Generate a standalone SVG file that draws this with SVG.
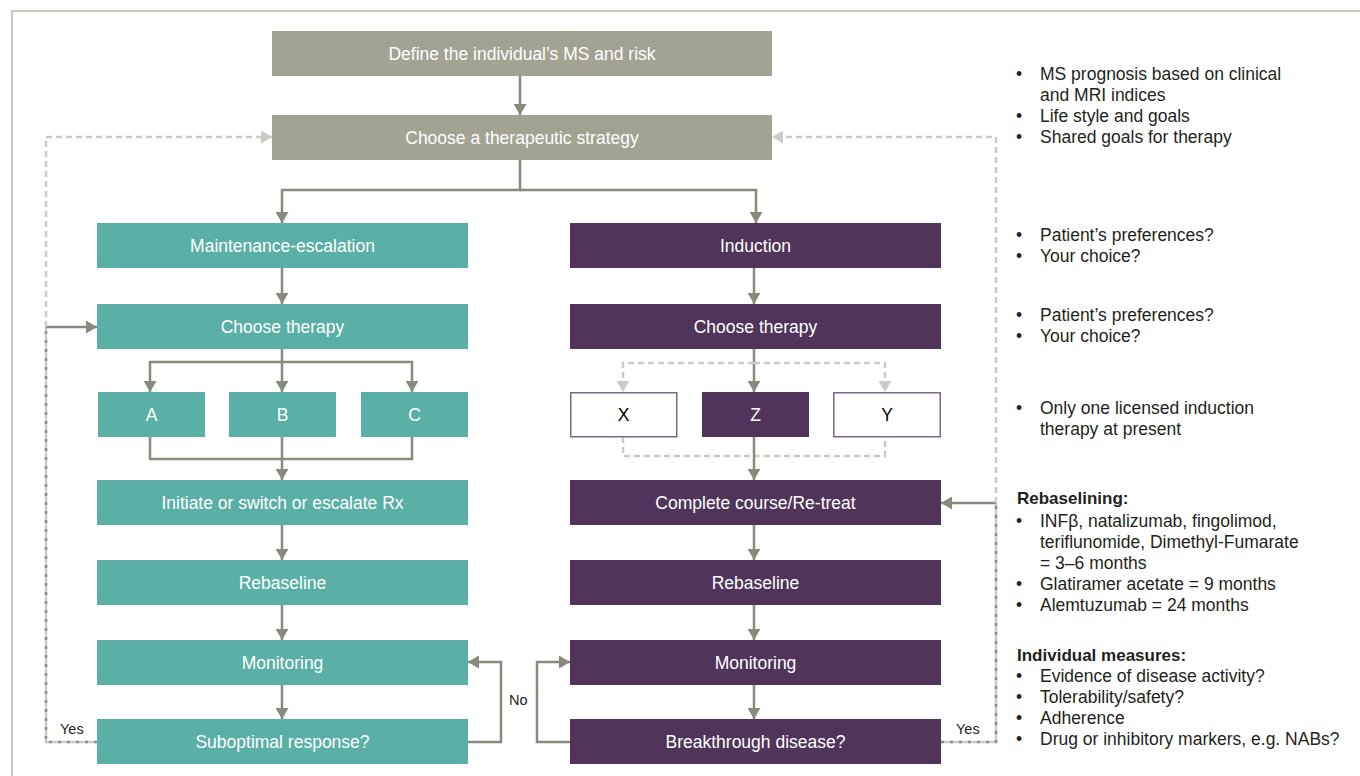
<svg xmlns="http://www.w3.org/2000/svg" width="1360" height="776" viewBox="0 0 1360 776">
<style>
  .t{font-family:"Liberation Sans",Arial,sans-serif;font-size:17.5px;fill:#ffffff;text-anchor:middle;dominant-baseline:central}
  .tk{font-family:"Liberation Sans",Arial,sans-serif;font-size:17.5px;fill:#000000;text-anchor:middle;dominant-baseline:central}
  .gray{fill:#a3a392}
  .teal{fill:#5aafa6}
  .purp{fill:#50345a}
  .wbox{fill:#ffffff;stroke:#7d6688;stroke-width:1.5}
  .c{fill:none;stroke:#878a7c;stroke-width:2.5}
  .d{fill:none;stroke:#cbcbc3;stroke-width:2.5;stroke-dasharray:6 4}
  .ls{fill:none;stroke:#cbcbc3;stroke-width:2.5}
  .dd{fill:none;stroke:#8e9083;stroke-width:2.5;stroke-dasharray:3 6}
  .side{font-family:"Liberation Sans",Arial,sans-serif;font-size:17.5px;fill:#231f20}
  .hd{font-weight:bold;font-size:17px}
  .lbl{font-family:"Liberation Sans",Arial,sans-serif;font-size:14.5px;fill:#231f20}
</style>
<defs>
  <marker id="a" markerUnits="userSpaceOnUse" markerWidth="11" markerHeight="13" viewBox="0 0 11 13" refX="11" refY="6.5" orient="auto">
    <path d="M0,0 L11,6.5 L0,13 z" fill="#878a7c"/>
  </marker>
  <marker id="al" markerUnits="userSpaceOnUse" markerWidth="11" markerHeight="13" viewBox="0 0 11 13" refX="11" refY="6.5" orient="auto">
    <path d="M0,0 L11,6.5 L0,13 z" fill="#cbcbc3"/>
  </marker>
</defs>
<rect x="12" y="11" width="1400" height="820" fill="none" stroke="#cacabe" stroke-width="2"/>

<g id="connectors">
  <path class="c" d="M520,76 V115" marker-end="url(#a)"/>
  <path class="c" d="M520,160 V190 H282 V223" marker-end="url(#a)"/>
  <path class="c" d="M520,190 H756 V223" marker-end="url(#a)"/>
  <path class="c" d="M282,268 V304" marker-end="url(#a)"/>
  <path class="c" d="M282,349 V392" marker-end="url(#a)"/>
  <path class="c" d="M282,362 H150 V392" marker-end="url(#a)"/>
  <path class="c" d="M282,362 H412 V392" marker-end="url(#a)"/>
  <path class="c" d="M150,437 V459 H412 V437"/>
  <path class="c" d="M282,437 V480" marker-end="url(#a)"/>
  <path class="c" d="M282,525 V560" marker-end="url(#a)"/>
  <path class="c" d="M282,605 V640" marker-end="url(#a)"/>
  <path class="c" d="M282,685 V719" marker-end="url(#a)"/>
  <path class="c" d="M468,742 H501 V662 H468" marker-end="url(#a)"/>
  <path class="ls" d="M97,742 H46 V327"/>
  <path class="dd" d="M97,742 H46 V327"/>
  <path class="c" d="M46,327 H97" marker-end="url(#a)"/>
  <path class="d" d="M46,327 V137 H272" marker-end="url(#al)"/>

  <path class="c" d="M754,268 V304" marker-end="url(#a)"/>
  <path class="c" d="M754,349 V392" marker-end="url(#a)"/>
  <path class="d" d="M754,363 H623 V392" marker-end="url(#al)"/>
  <path class="d" d="M754,363 H885 V392" marker-end="url(#al)"/>
  <path class="d" d="M623,437 V456 H885 V437"/>
  <path class="c" d="M754,437 V480" marker-end="url(#a)"/>
  <path class="c" d="M754,525 V560" marker-end="url(#a)"/>
  <path class="c" d="M754,605 V640" marker-end="url(#a)"/>
  <path class="c" d="M754,685 V719" marker-end="url(#a)"/>
  <path class="c" d="M570,742 H537 V662 H570" marker-end="url(#a)"/>
  <path class="ls" d="M941,742 H996 V503"/>
  <path class="dd" d="M941,742 H996 V503"/>
  <path class="c" d="M996,503 H941" marker-end="url(#a)"/>
  <path class="d" d="M996,503 V137 H772" marker-end="url(#al)"/>

  <text class="lbl" x="60" y="734">Yes</text>
  <text class="lbl" x="509" y="705">No</text>
  <text class="lbl" x="956" y="734">Yes</text>
</g>

<g id="define"><rect class="gray" x="272" y="31" width="500" height="45"/><text class="t" x="522" y="53.5">Define the individual’s MS and risk</text></g>
<g id="strategy"><rect class="gray" x="272" y="115" width="500" height="45"/><text class="t" x="522" y="137.5">Choose a therapeutic strategy</text></g>

<g id="maint"><rect class="teal" x="97" y="223" width="371" height="45"/><text class="t" x="282.5" y="245.5">Maintenance-escalation</text></g>
<g id="choose-l"><rect class="teal" x="97" y="304" width="371" height="45"/><text class="t" x="282.5" y="326.5">Choose therapy</text></g>
<g id="A"><rect class="teal" x="98" y="392" width="107" height="45"/><text class="t" x="151.5" y="414.5">A</text></g>
<g id="B"><rect class="teal" x="229" y="392" width="107" height="45"/><text class="t" x="282.5" y="414.5">B</text></g>
<g id="C"><rect class="teal" x="361" y="392" width="107" height="45"/><text class="t" x="414.5" y="414.5">C</text></g>
<g id="initiate"><rect class="teal" x="97" y="480" width="371" height="45"/><text class="t" x="282.5" y="502.5">Initiate or switch or escalate Rx</text></g>
<g id="rebase-l"><rect class="teal" x="97" y="560" width="371" height="45"/><text class="t" x="282.5" y="582.5">Rebaseline</text></g>
<g id="monitor-l"><rect class="teal" x="97" y="640" width="371" height="45"/><text class="t" x="282.5" y="662.5">Monitoring</text></g>
<g id="subopt"><rect class="teal" x="97" y="719" width="371" height="45"/><text class="t" x="282.5" y="741.5">Suboptimal response?</text></g>

<g id="induction"><rect class="purp" x="570" y="223" width="371" height="45"/><text class="t" x="755.5" y="245.5">Induction</text></g>
<g id="choose-r"><rect class="purp" x="570" y="304" width="371" height="45"/><text class="t" x="755.5" y="326.5">Choose therapy</text></g>
<g id="X"><rect class="wbox" x="570.75" y="392.75" width="106" height="44"/><text class="tk" x="623.5" y="414.5">X</text></g>
<g id="Z"><rect class="purp" x="702" y="392" width="107" height="45"/><text class="t" x="755.5" y="414.5">Z</text></g>
<g id="Y"><rect class="wbox" x="833.75" y="392.75" width="106.5" height="44"/><text class="tk" x="887" y="414.5">Y</text></g>
<g id="complete"><rect class="purp" x="570" y="480" width="371" height="45"/><text class="t" x="755.5" y="502.5">Complete course/Re-treat</text></g>
<g id="rebase-r"><rect class="purp" x="570" y="560" width="371" height="45"/><text class="t" x="755.5" y="582.5">Rebaseline</text></g>
<g id="monitor-r"><rect class="purp" x="570" y="640" width="371" height="45"/><text class="t" x="755.5" y="662.5">Monitoring</text></g>
<g id="breakthrough"><rect class="purp" x="570" y="719" width="371" height="45"/><text class="t" x="755.5" y="741.5">Breakthrough disease?</text></g>

<g id="notes" class="side">
  <text x="1016" y="80">•</text><text x="1040" y="80">MS prognosis based on clinical</text>
  <text x="1040" y="101">and MRI indices</text>
  <text x="1016" y="122">•</text><text x="1040" y="122">Life style and goals</text>
  <text x="1016" y="143">•</text><text x="1040" y="143">Shared goals for therapy</text>

  <text x="1016" y="241">•</text><text x="1040" y="241">Patient’s preferences?</text>
  <text x="1016" y="262">•</text><text x="1040" y="262">Your choice?</text>

  <text x="1016" y="321">•</text><text x="1040" y="321">Patient’s preferences?</text>
  <text x="1016" y="342">•</text><text x="1040" y="342">Your choice?</text>

  <text x="1016" y="414">•</text><text x="1040" y="414">Only one licensed induction</text>
  <text x="1040" y="435">therapy at present</text>

  <text class="hd" x="1017" y="504">Rebaselining:</text>
  <text x="1016" y="527">•</text><text x="1040" y="527">INFβ, natalizumab, fingolimod,</text>
  <text x="1040" y="548">teriflunomide, Dimethyl-Fumarate</text>
  <text x="1040" y="569">= 3–6 months</text>
  <text x="1016" y="590">•</text><text x="1040" y="590">Glatiramer acetate = 9 months</text>
  <text x="1016" y="611">•</text><text x="1040" y="611">Alemtuzumab = 24 months</text>

  <text class="hd" x="1017" y="661">Individual measures:</text>
  <text x="1016" y="682">•</text><text x="1040" y="682">Evidence of disease activity?</text>
  <text x="1016" y="703">•</text><text x="1040" y="703">Tolerability/safety?</text>
  <text x="1016" y="724">•</text><text x="1040" y="724">Adherence</text>
  <text x="1016" y="745">•</text><text x="1040" y="745">Drug or inhibitory markers, e.g. NABs?</text>
</g>
</svg>
